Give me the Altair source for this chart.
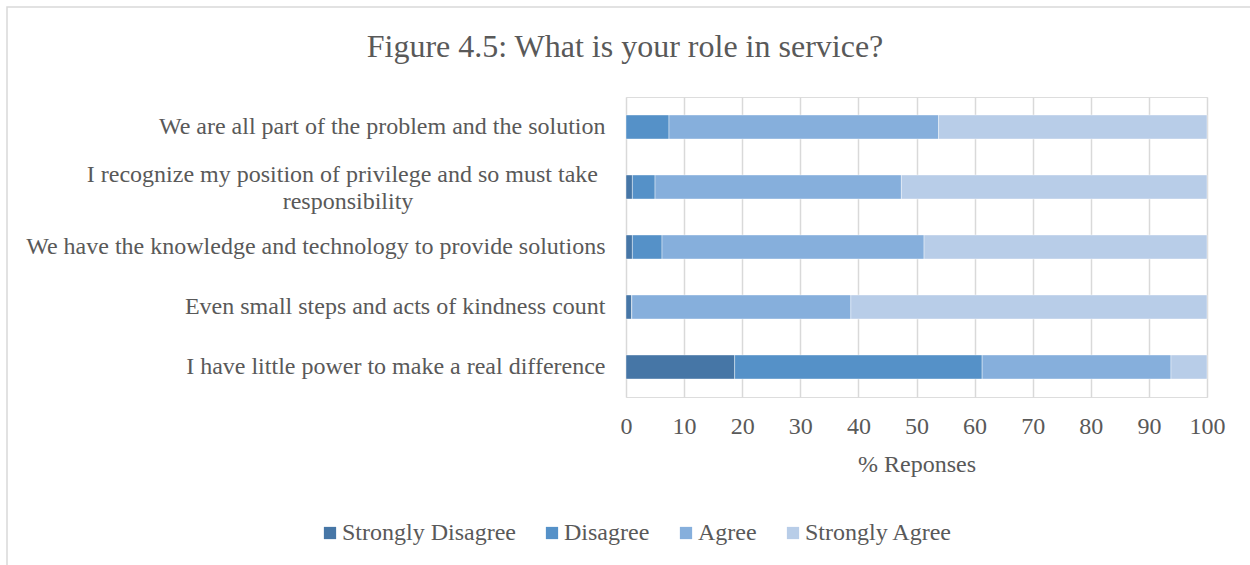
import altair as alt
import pandas as pd

categories = [
    "We are all part of the problem and the solution",
    "I recognize my position of privilege and so must take responsibility",
    "We have the knowledge and technology to provide solutions",
    "Even small steps and acts of kindness count",
    "I have little power to make a real difference",
]
wrapped_category = categories[1]
wrapped_line1 = "I recognize my position of privilege and so must take"
wrapped_line2 = "responsibility"
series = ["Strongly Disagree", "Disagree", "Agree", "Strongly Agree"]
strongly_disagree = [0.0, 1.1, 1.1, 1.0, 18.7]
disagree = [7.4, 3.9, 5.1, 0.0, 42.6]
agree = [46.4, 42.4, 45.1, 37.7, 32.5]
strongly_agree = [46.2, 52.6, 48.7, 61.3, 6.2]
colors = ["#4676a6", "#5591c8", "#86afdc", "#b8cde8"]
x_ticks = [0, 10, 20, 30, 40, 50, 60, 70, 80, 90, 100]
title_text = "Figure 4.5: What is your role in service?"

rows = []
for si, (name, vals) in enumerate(zip(series, [strongly_disagree, disagree, agree, strongly_agree])):
    for c, v in zip(categories, vals):
        rows.append({"category": c, "series": name, "value": v, "order": si})
df = pd.DataFrame(rows)

FONT = "Liberation Serif"
TXT = "#595959"
GRID = "#d9d9d9"
FS = 24

y_enc = alt.Y(
    "category:N",
    sort=categories,
    scale=alt.Scale(paddingInner=0.6, paddingOuter=0.3),
    axis=alt.Axis(
        title=None,
        ticks=False,
        domain=False,
        grid=False,
        labelFont=FONT,
        labelFontSize=FS,
        labelColor=TXT,
        labelPadding=21,
        labelLimit=800,
        labelExpr="indexof(datum.label, 'privilege') >= 0 ? '' : datum.label",
    ),
)

bars = alt.Chart(df).mark_bar(stroke="white", strokeWidth=0.4).encode(
    y=y_enc,
    x=alt.X(
        "value:Q",
        stack="zero",
        scale=alt.Scale(domain=[0, 100], nice=False),
        axis=alt.Axis(
            title="% Reponses",
            values=x_ticks,
            ticks=False,
            domain=False,
            grid=True,
            gridColor=GRID,
            gridWidth=1.5,
            labelFlush=False,
            labelFont=FONT,
            labelFontSize=FS,
            labelColor=TXT,
            labelPadding=17,
            titleFont=FONT,
            titleFontSize=FS,
            titleFontWeight="normal",
            titleColor=TXT,
            titlePadding=14,
        ),
    ),
    color=alt.Color(
        "series:N",
        sort=series,
        scale=alt.Scale(domain=series, range=colors),
        legend=alt.Legend(
            title=None,
            orient="none",
            direction="horizontal",
            legendX=-308,
            legendY=424,
            symbolType="square",
            symbolSize=150,
            symbolStrokeWidth=0,
            labelFont=FONT,
            labelFontSize=FS,
            labelColor=TXT,
            labelLimit=400,
            labelOffset=0,
            columnPadding=24,
        ),
    ),
    order=alt.Order("order:Q", sort="ascending"),
)

wrap_df = pd.DataFrame({
    "category": [wrapped_category, wrapped_category],
    "text": [wrapped_line1, wrapped_line2],
    "line": [1, 2],
})
wrap_line1 = alt.Chart(wrap_df).transform_filter("datum.line == 1").mark_text(
    font=FONT, fontSize=FS, color=TXT, align="right", baseline="middle", dy=-12, clip=False
).encode(
    y=alt.Y("category:N", sort=categories),
    x=alt.value(-28),
    text="text:N",
)
wrap_line2 = alt.Chart(wrap_df).transform_filter("datum.line == 2").mark_text(
    font=FONT, fontSize=FS, color=TXT, align="center", baseline="middle", dy=15, clip=False
).encode(
    y=alt.Y("category:N", sort=categories),
    x=alt.value(-278),
    text="text:N",
)

title_df = pd.DataFrame({"text": [title_text]})
title_mark = alt.Chart(title_df).mark_text(
    font=FONT, fontSize=32, color=TXT, align="center", baseline="middle", clip=False
).encode(x=alt.value(-1), y=alt.value(-50), text="text:N")

border = alt.Chart(pd.DataFrame({"a": [0]})).mark_rect(
    fill=None, stroke=GRID, strokeWidth=1.5, clip=False
).encode(
    x=alt.value(-619), x2=alt.value(640), y=alt.value(-90), y2=alt.value(480)
)

chart = alt.layer(border, bars, wrap_line1, wrap_line2, title_mark).properties(
    width=581,
    height=300,
    padding={"left": 626, "top": 97, "right": 43, "bottom": 168},
    autosize=alt.AutoSizeParams(type="none"),
).configure_view(stroke="transparent", strokeWidth=0).configure(background="white")

chart.save("out.html", embed_options={"renderer": "svg", "actions": False})
